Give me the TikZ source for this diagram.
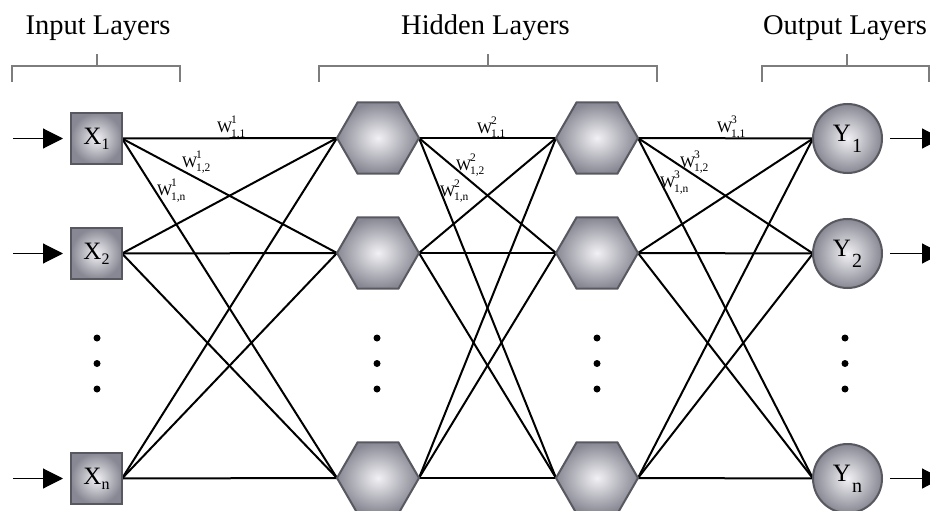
\documentclass[tikz,border=0pt]{standalone}
\usepackage{fontspec}
\setmainfont{Liberation Serif}
\usetikzlibrary{shapes.geometric,arrows.meta,backgrounds}

\definecolor{nodeedge}{RGB}{88,88,96}
\definecolor{nodelight}{RGB}{242,242,245}
\definecolor{nodedark}{RGB}{136,136,148}
\definecolor{bracegrey}{RGB}{125,125,125}

% weight label: W with stacked super- and subscript
\newcommand\wgt[2]{W\kern-1.2pt\rlap{\raisebox{9pt}{\fontsize{11.5}{12}\selectfont #1}}\raisebox{-5pt}{\fontsize{11.5}{12}\selectfont #2}}
% node captions
\newcommand\xcap[1]{\fontsize{25}{26}\selectfont X\raisebox{-5pt}{\fontsize{16}{16}\selectfont #1}}
\newcommand\ycap[1]{\fontsize{25}{26}\selectfont Y\kern1pt\raisebox{-11pt}{\fontsize{20}{20}\selectfont #1}}

\tikzset{
  unit/.style={line width=2pt, draw=nodeedge, inner color=nodelight, outer color=nodedark,
               inner sep=0pt, outer sep=0pt},
  inbox/.style={unit, rectangle, minimum size=51pt},
  hexa/.style={unit, regular polygon, regular polygon sides=6, minimum size=82pt},
  outcirc/.style={unit, circle, minimum size=69pt},
  link/.style={line width=2pt},
  feed/.style={line width=1.1pt, -{Triangle[length=20pt,width=20pt]}},
  brace/.style={line width=1.5pt, draw=bracegrey},
  title/.style={font=\fontsize{28.5}{30}\selectfont, anchor=base, inner sep=0pt},
  wlab/.style={anchor=base west, font=\fontsize{16}{17}\selectfont, inner sep=0pt},
  dotmark/.style={circle, fill=black, inner sep=0pt, minimum size=7pt}
}

\begin{document}
\begin{tikzpicture}[x=1pt,y=-1pt]
\useasboundingbox (0,0) rectangle (930,511);
\clip (0,0) rectangle (930,511);

% layer titles
\node[title] (tin)  at (98,35)    {Input Layers};
\node[title] (thid) at (485.5,35) {Hidden Layers};
\node[title] (tout) at (845,35)   {Output Layers};

% brackets under the titles
\draw[brace] (12,82) -- (12,66) -- (180,66) -- (180,82);
\draw[brace] (97,66) -- (97,54);
\draw[brace] (319,82) -- (319,66) -- (657,66) -- (657,82);
\draw[brace] (488,66) -- (488,54);
\draw[brace] (762,82) -- (762,66) -- (929,66) -- (929,82);
\draw[brace] (847,66) -- (847,54);

% input units
\node[inbox] (x1) at (96.5,138.5) {\xcap{1}};
\node[inbox] (x2) at (96.5,253.5) {\xcap{2}};
\node[inbox] (xn) at (96.5,478.5) {\xcap{n}};

% first hidden layer
\node[hexa] (a1) at (378,138) {};
\node[hexa] (a2) at (378,253) {};
\node[hexa] (an) at (378,478) {};

% second hidden layer
\node[hexa] (b1) at (597,138) {};
\node[hexa] (b2) at (597,253) {};
\node[hexa] (bn) at (597,478) {};

% output units
\node[outcirc] (y1) at (847.5,138.5) {\ycap{1}};
\node[outcirc] (y2) at (847.5,253.5) {\ycap{2}};
\node[outcirc] (yn) at (847.5,478.5) {\ycap{n}};

% full connections between successive layers
\begin{scope}[on background layer]
  \foreach \s in {x1,x2,xn}
    \foreach \t in {a1,a2,an}
      \draw[link] (\s.east) -- (\t.west);
  \foreach \s in {a1,a2,an}
    \foreach \t in {b1,b2,bn}
      \draw[link] (\s.east) -- (\t.west);
  \foreach \s in {b1,b2,bn}
    \foreach \t in {y1,y2,yn}
      \draw[link] (\s.east) -- (\t.west);
\end{scope}

% ellipses between the second and last unit of each layer
\foreach \c [count=\i] in {97,377,597,845} {
  \node[dotmark] (d\i a) at (\c,338) {};
  \node[dotmark] (d\i b) at (\c,363.5) {};
  \node[dotmark] (d\i c) at (\c,389) {};
}

% weight labels
\node[wlab] (w11) at (217,132) {\wgt{1}{1,1}};
\node[wlab] (w12) at (182,167) {\wgt{1}{1,2}};
\node[wlab] (w1n) at (157,195) {\wgt{1}{1,n}};
\node[wlab] (w21) at (477,133) {\wgt{2}{1,1}};
\node[wlab] (w22) at (456,170) {\wgt{2}{1,2}};
\node[wlab] (w2n) at (440,196) {\wgt{2}{1,n}};
\node[wlab] (w31) at (717,132) {\wgt{3}{1,1}};
\node[wlab] (w32) at (680,167) {\wgt{3}{1,2}};
\node[wlab] (w3n) at (660,187) {\wgt{3}{1,n}};

% incoming signals
\coordinate (s1) at (13,138.5);
\coordinate (s2) at (13,253.5);
\coordinate (sn) at (13,478.5);
\draw[feed, shorten >=8pt] (s1) -- (x1.west);
\draw[feed, shorten >=8pt] (s2) -- (x2.west);
\draw[feed, shorten >=8pt] (sn) -- (xn.west);

% outgoing signals
\coordinate (o1) at (942,138.5);
\coordinate (o2) at (942,253.5);
\coordinate (on) at (942,478.5);
\draw[feed, shorten <=8pt] (y1.east) -- (o1);
\draw[feed, shorten <=8pt] (y2.east) -- (o2);
\draw[feed, shorten <=8pt] (yn.east) -- (on);
\end{tikzpicture}
\end{document}
